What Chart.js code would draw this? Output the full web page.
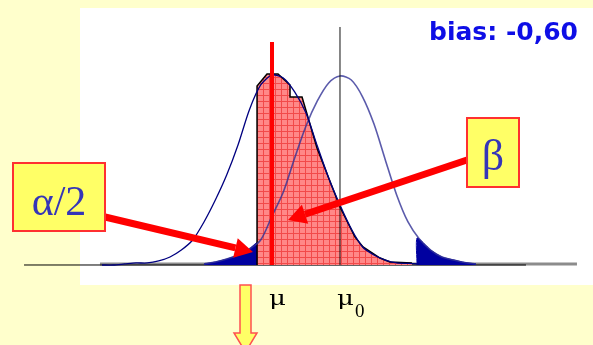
<!DOCTYPE html>
<html>
<head>
<meta charset="utf-8">
<script src="https://cdn.jsdelivr.net/npm/chart.js@4.4.0/dist/chart.umd.min.js"></script>
<style>
  html, body { margin: 0; padding: 0; background: #FFFFCC; }
  canvas { display: block; }
</style>
</head>
<body>
<canvas id="chart" width="593" height="345"></canvas>
<script>
const biasLabel = 'bias: -0,60';
const muX = -0.60;
const mu0X = 0;
const muTop = 1.312;
const mu0Top = 1.40;

// distribution around the true value mu (navy)
const trueX = [-2.1, -2.0, -1.9, -1.8, -1.7, -1.6, -1.5, -1.4, -1.3, -1.2, -1.1, -1.0, -0.9, -0.8, -0.7,
               -0.6, -0.5, -0.4, -0.3, -0.2, -0.1, 0, 0.1, 0.2, 0.3, 0.4, 0.5, 0.6, 0.7];
const trueY = [0, 0, 0.006, 0.012, 0.012, 0.024, 0.047, 0.088, 0.147, 0.253, 0.382, 0.529, 0.706, 0.912, 1.059,
               1.118, 1.100, 1.018, 0.894, 0.700, 0.512, 0.353, 0.212, 0.106, 0.059, 0.029, 0.012, 0.009, 0.006];

// distribution under H0 around mu0
const nullX = [-1.2, -1.1, -1.0, -0.9, -0.8, -0.7, -0.6, -0.5, -0.4, -0.3, -0.2, -0.1, 0,
               0.1, 0.2, 0.3, 0.4, 0.5, 0.6, 0.7, 0.8, 0.9, 1.0, 1.1, 1.2];
const nullY = [0.006, 0.018, 0.035, 0.059, 0.094, 0.147, 0.288, 0.429, 0.629, 0.818, 0.965, 1.071, 1.112,
               1.088, 0.988, 0.829, 0.618, 0.412, 0.253, 0.153, 0.088, 0.047, 0.030, 0.015, 0.006];

// alpha/2 tails (outside the acceptance region)
const leftTailX = [-1.2, -1.1, -1.0, -0.9, -0.8, -0.732, -0.732];
const leftTailY = [0.006, 0.018, 0.035, 0.059, 0.094, 0.130, 0];
const rightTailX = [0.68, 0.68, 0.8, 0.9, 1.0, 1.1, 1.2];
const rightTailY = [0, 0.159, 0.088, 0.047, 0.030, 0.015, 0.006];

// beta area (simulated histogram outline)
const betaX = [-0.732, -0.732, -0.644, -0.547, -0.441, -0.441, -0.335, -0.203, 0, 0.132, 0.203, 0.353, 0.441, 0.635];
const betaY = [0, 1.053, 1.124, 1.124, 1.059, 0.988, 0.988, 0.688, 0.341, 0.165, 0.106, 0.041, 0.018, 0.012];

// axis lines
const axisX = [-2.788, 1.641];
const barX = [-2.118, 2.091];

// arrow targets
const alphaTip = { x: -0.768, y: 0.076 };
const betaTip = { x: -0.459, y: 0.265 };

function zip(xs, ys) {
    return xs.map((x, i) => ({ x: x, y: ys[i] }));
}

function gridPattern() {
    const c = document.createElement('canvas');
    c.width = 6; c.height = 6;
    const g = c.getContext('2d');
    g.fillStyle = '#FF8888';
    g.fillRect(0, 0, 6, 6);
    g.fillStyle = '#F24A4A';
    g.fillRect(5, 0, 1, 6);
    g.fillRect(0, 5, 6, 1);
    return g.createPattern(c, 'repeat');
}

function drawArrow(ctx, x1, y1, x2, y2, width, headLen, headW, color) {
    const a = Math.atan2(y2 - y1, x2 - x1);
    const bx = x2 - headLen * Math.cos(a), by = y2 - headLen * Math.sin(a);
    ctx.strokeStyle = color;
    ctx.fillStyle = color;
    ctx.lineWidth = width;
    ctx.beginPath();
    ctx.moveTo(x1, y1);
    ctx.lineTo(bx, by);
    ctx.stroke();
    ctx.beginPath();
    ctx.moveTo(x2, y2);
    ctx.lineTo(bx + headW * Math.sin(a), by - headW * Math.cos(a));
    ctx.lineTo(bx - headW * Math.sin(a), by + headW * Math.cos(a));
    ctx.closePath();
    ctx.fill();
}

function labelBox(ctx, x, y, w, h, text, font, baseline) {
    ctx.fillStyle = '#FFFF66';
    ctx.fillRect(x, y, w, h);
    ctx.strokeStyle = '#FF3030';
    ctx.lineWidth = 2;
    ctx.strokeRect(x, y, w, h);
    ctx.fillStyle = '#3535B8';
    ctx.font = font;
    ctx.textAlign = 'center';
    ctx.textBaseline = 'alphabetic';
    ctx.fillText(text, x + w / 2, baseline);
}

const annotations = {
    id: 'annotations',
    beforeDraw(chart) {
        const ctx = chart.ctx;
        ctx.save();
        ctx.fillStyle = '#FFFFCC';
        ctx.fillRect(0, 0, chart.width, chart.height);
        ctx.fillStyle = '#FFFFFF';
        ctx.fillRect(80, 8, chart.width - 80, 277);
        ctx.restore();
    },
    afterDatasetsDraw(chart) {
        const ctx = chart.ctx;
        const xs = chart.scales.x, ys = chart.scales.y;
        ctx.save();

        // bias text
        ctx.fillStyle = '#0E0EE6';
        ctx.font = 'bold 25px "DejaVu Sans"';
        ctx.textAlign = 'right';
        ctx.fillText(biasLabel, 578, 40);

        // arrows + boxes
        drawArrow(ctx, 105, 217, xs.getPixelForValue(alphaTip.x), ys.getPixelForValue(alphaTip.y), 7, 18, 10, '#FF0000');
        drawArrow(ctx, 467, 160, xs.getPixelForValue(betaTip.x), ys.getPixelForValue(betaTip.y), 7, 18, 10, '#FF0000');
        labelBox(ctx, 13, 163, 92, 68, 'α/2', '42px "Liberation Serif"', 215);
        labelBox(ctx, 467, 118, 52, 69, 'β', '44px "Liberation Serif"', 170);

        // mu labels
        ctx.fillStyle = '#000000';
        ctx.textAlign = 'left';
        const pMu = xs.getPixelForValue(muX) - 3;
        const pMu0 = xs.getPixelForValue(mu0X) - 3;
        ctx.font = '20px "DejaVu Serif"';
        [pMu, pMu0].forEach(p => {
            ctx.save();
            ctx.translate(p, 305);
            ctx.scale(1.3, 1);
            ctx.fillText('μ', 0, 0);
            ctx.restore();
        });
        ctx.font = '19px "Liberation Serif"';
        ctx.fillText('0', pMu0 + 18, 317);

        // yellow down arrow
        ctx.beginPath();
        ctx.moveTo(240, 285);
        ctx.lineTo(251, 285);
        ctx.lineTo(251, 333);
        ctx.lineTo(257, 333);
        ctx.lineTo(245.5, 352);
        ctx.lineTo(234, 333);
        ctx.lineTo(240, 333);
        ctx.closePath();
        ctx.fillStyle = '#FFFF66';
        ctx.fill();
        ctx.strokeStyle = '#FF5050';
        ctx.lineWidth = 1.5;
        ctx.stroke();

        ctx.restore();
    }
};

new Chart(document.getElementById('chart'), {
    type: 'line',
    data: {
        datasets: [
            {   // mu (red)
                data: zip([muX, muX], [0, muTop]),
                borderColor: '#FF0000', borderWidth: 4, order: 1
            },
            {   // mu0 (black)
                data: zip([mu0X, mu0X], [0, mu0Top]),
                borderColor: '#111111', borderWidth: 1, order: 2
            },
            {
                data: zip(trueX, trueY),
                borderColor: '#000080', borderWidth: 1.3, tension: 0.25, order: 3
            },
            {
                data: zip(nullX, nullY),
                borderColor: 'rgba(50,50,150,0.8)', borderWidth: 1.6, tension: 0.3, order: 4
            },
            {
                data: zip(betaX, betaY),
                borderColor: '#000000', borderWidth: 1.5, tension: 0,
                backgroundColor: gridPattern(), fill: 'origin', order: 5
            },
            {
                data: zip(leftTailX, leftTailY),
                borderColor: '#0000A0', borderWidth: 1, tension: 0.2,
                backgroundColor: '#0000A0', fill: 'origin', order: 6
            },
            {
                data: zip(rightTailX, rightTailY),
                borderColor: '#0000A0', borderWidth: 1, tension: 0.2,
                backgroundColor: '#0000A0', fill: 'origin', order: 6
            },
            {   // axis line
                data: zip(axisX, [0, 0]),
                borderColor: '#000000', borderWidth: 1, order: 7
            },
            {
                data: zip(barX, [0.006, 0.006]),
                borderColor: '#8C8C8C', borderWidth: 3, order: 8
            }
        ]
    },
    options: {
        responsive: false,
        animation: false,
        layout: { padding: 0 },
        elements: { point: { radius: 0 } },
        scales: {
            x: { type: 'linear', min: -3, max: 2.2324, display: false },
            y: { min: -0.4706, max: 1.5588, display: false }
        },
        plugins: {
            legend: { display: false },
            tooltip: { enabled: false }
        }
    },
    plugins: [annotations]
});
</script>
</body>
</html>
